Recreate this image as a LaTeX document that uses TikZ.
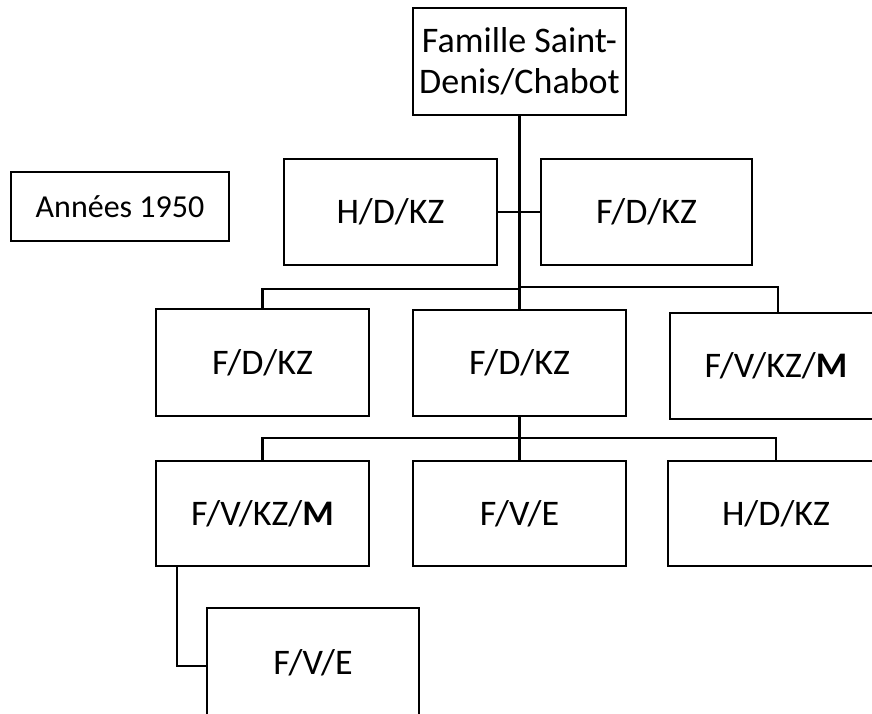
\documentclass[tikz,border=0pt]{standalone}
\usepackage{fontspec}
\setmainfont{Carlito}
\begin{document}
\begin{tikzpicture}[x=1pt,y=-1pt,
  box/.style={draw=black,line width=2.5pt,fill=white,inner sep=0pt,outer sep=0pt,
    minimum width=213pt,minimum height=106pt,align=center,
    font=\fontsize{36}{41}\selectfont},
  link/.style={draw=black,line width=2.2pt},
  trunk/.style={draw=black,line width=3.2pt}]
\useasboundingbox (0,0) rectangle (872,713);
\clip (0,0) rectangle (872,713);
\fill[white] (0,0) rectangle (872,713);

% family root and first generation
\node[box,minimum height=107pt] (top) at (519.5,61.5) {Famille Saint-\\Denis/Chabot};
\node[box] (hdk1) at (390.5,212) {H/D/KZ};
\node[box,minimum width=211pt] (fdk1) at (646.5,212) {F/D/KZ};
\node[box,minimum width=218pt,minimum height=69pt,
  font=\fontsize{32}{38}\selectfont] (year) at (120,206.5) {Années 1950};

% second generation
\node[box,minimum height=107pt] (fdk2) at (262.5,362.5) {F/D/KZ};
\node[box] (fdk3) at (519.5,363) {F/D/KZ};
\node[box,minimum width=212pt] (fvkm1) at (776,366) {F/V/KZ/\textbf{M}};

% third generation
\node[box,minimum height=105pt] (fvkm2) at (262.5,513.5) {F/V/KZ/\textbf{M}};
\node[box,minimum height=105pt] (fve1) at (519.5,513.5) {F/V/E};
\node[box,minimum width=216pt,minimum height=105pt] (hdk2) at (776,513.5) {H/D/KZ};

% fourth generation, running past the lower edge
\node[box,minimum width=212pt,minimum height=110pt] (fve2) at (313,663) {F/V/E};

% junction points of the branch lines
\coordinate (j1) at (519,289);
\coordinate (j2) at (519,438);

% connectors
\draw[trunk] (top.south) -- (fdk3.north);
\draw[link] (hdk1.east) -- (fdk1.west);
\draw[link] (j1) -| (fdk2.north);
\draw[link] ([yshift=2pt]j1) -| ([xshift=2pt]fvkm1.north);
\draw[link] (fdk3.south) -- (fve1.north);
\draw[link] (j2) -| (fvkm2.north);
\draw[link] (j2) -| (hdk2.north);
\draw[link] ([xshift=-85.5pt]fvkm2.south) |- ([yshift=-3pt]fve2.west);
\end{tikzpicture}
\end{document}
